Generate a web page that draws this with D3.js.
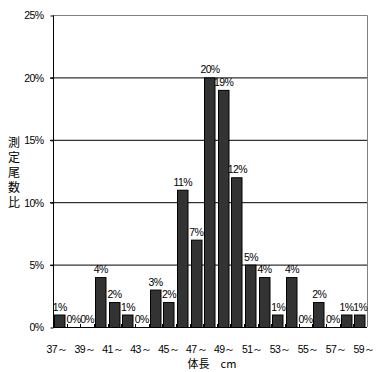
<!DOCTYPE html>
<html>
<head>
<meta charset="utf-8">
<script src="https://cdn.jsdelivr.net/npm/d3@7"></script>
<style>
  body { margin: 0; background: #fff; }
  svg { display: block; }
  text { font-family: "Liberation Sans", "DejaVu Sans", sans-serif; font-size: 10.5px; fill: #000; }
  .jp { font-family: "Noto Sans CJK JP", sans-serif; font-size: 11px; }
</style>
</head>
<body>
<svg></svg>
<script>
// Declare Variables
let categories = ["37", "38", "39", "40", "41", "42", "43", "44", "45", "46", "47", "48",
  "49", "50", "51", "52", "53", "54", "55", "56", "57", "58", "59"];
let values = [1, 0, 0, 4, 2, 1, 0, 3, 2, 11, 7, 20, 19, 12, 5, 4, 1, 4, 0, 2, 0, 1, 1];
let tickLabels = ["37～", "39～", "41～", "43～", "45～", "47～", "49～", "51～", "53～", "55～", "57～", "59～"];
let yTicks = [0, 5, 10, 15, 20, 25];
let yTitle = "測定尾数比";
let xTitle = "体長　cm";

let width = 382;
let height = 372;
let plotLeft = 53;
let plotRight = 367;
let plotTop = 15;
let plotBottom = 327;

let svg = d3.select("svg").attr("width", width).attr("height", height);

let xScale = d3.scaleBand().domain(categories).range([plotLeft, plotRight]);
let labelScale = d3.scalePoint().domain(tickLabels).range([57, 364]);
let yScale = d3.scaleLinear().domain([0, 25]).range([plotBottom, plotTop]);

// gridlines
svg.append("g")
  .selectAll("line")
  .data(yTicks.filter((d) => d > 0 && d < 25))
  .enter()
  .append("line")
  .attr("x1", plotLeft - 3)
  .attr("x2", plotRight)
  .attr("y1", (d) => yScale(d) + 0.5)
  .attr("y2", (d) => yScale(d) + 0.5)
  .attr("stroke", "#000");

// top + right border
svg.append("path")
  .attr("d", `M${plotLeft},${plotTop + 0.5}H${plotRight + 0.5}V${plotBottom}`)
  .attr("fill", "none")
  .attr("stroke", "#808080");

// bars
svg.append("g")
  .selectAll("rect")
  .data(values)
  .enter()
  .append("rect")
  .attr("x", (d, i) => Math.round(xScale(categories[i])) + 1.5)
  .attr("y", (d) => yScale(d) + 0.5)
  .attr("width", 10.5)
  .attr("height", (d) => plotBottom - yScale(d))
  .attr("fill", "#333333")
  .attr("stroke", "#000")
  .attr("stroke-width", 1);

// value labels
svg.append("g")
  .selectAll("text")
  .data(values)
  .enter()
  .append("text")
  .attr("x", (d, i) => xScale(categories[i]) + xScale.bandwidth() / 2)
  .attr("y", (d) => yScale(d) - 4)
  .attr("text-anchor", "middle")
  .attr("letter-spacing", "-0.6px")
  .text((d) => d + "%");

// y axis
let yAxis = d3.axisLeft(yScale).tickValues(yTicks).tickSize(3).tickFormat((d) => d + "%");
let gy = svg.append("g")
  .attr("transform", `translate(${plotLeft + 0.5}, 0.5)`)
  .call(yAxis);
gy.select(".domain").attr("stroke", "#000").attr("d", `M0,${plotTop}V${plotBottom}`);
gy.selectAll("text")
  .attr("x", -10)
  .attr("letter-spacing", "-0.6px")
  .style("font-family", "Liberation Sans, sans-serif")
  .style("font-size", "10.5px");

// x axis
let xAxis = d3.axisBottom(xScale).tickSize(0).tickFormat("");
let gx = svg.append("g")
  .attr("transform", `translate(0, ${plotBottom + 0.5})`)
  .call(xAxis);
gx.select(".domain").attr("stroke", "#000").attr("d", `M${plotLeft},0H${plotRight}`);
gx.selectAll(".tick").remove();

// inside ticks at band boundaries
svg.append("g")
  .selectAll("line")
  .data(categories.slice(1))
  .enter()
  .append("line")
  .attr("x1", (d) => Math.round(xScale(d)) + 0.5)
  .attr("x2", (d) => Math.round(xScale(d)) + 0.5)
  .attr("y1", plotBottom)
  .attr("y2", plotBottom - 3)
  .attr("stroke", "#000");

// x tick labels
svg.append("g")
  .selectAll("text")
  .data(tickLabels)
  .enter()
  .append("text")
  .attr("x", (d) => labelScale(d))
  .attr("y", 353)
  .attr("text-anchor", "middle")
  .attr("letter-spacing", "-0.6px")
  .text((d) => d);

// x title
svg.append("text")
  .attr("class", "jp")
  .attr("x", 212)
  .attr("y", 368)
  .attr("text-anchor", "middle")
  .text(xTitle);

// y title (vertical)
svg.append("text")
  .attr("class", "jp")
  .attr("x", 14)
  .attr("y", 136)
  .style("font-size", "12px")
  .style("writing-mode", "vertical-rl")
  .style("text-orientation", "upright")
  .attr("letter-spacing", "3px")
  .text(yTitle);
</script>
</body>
</html>
